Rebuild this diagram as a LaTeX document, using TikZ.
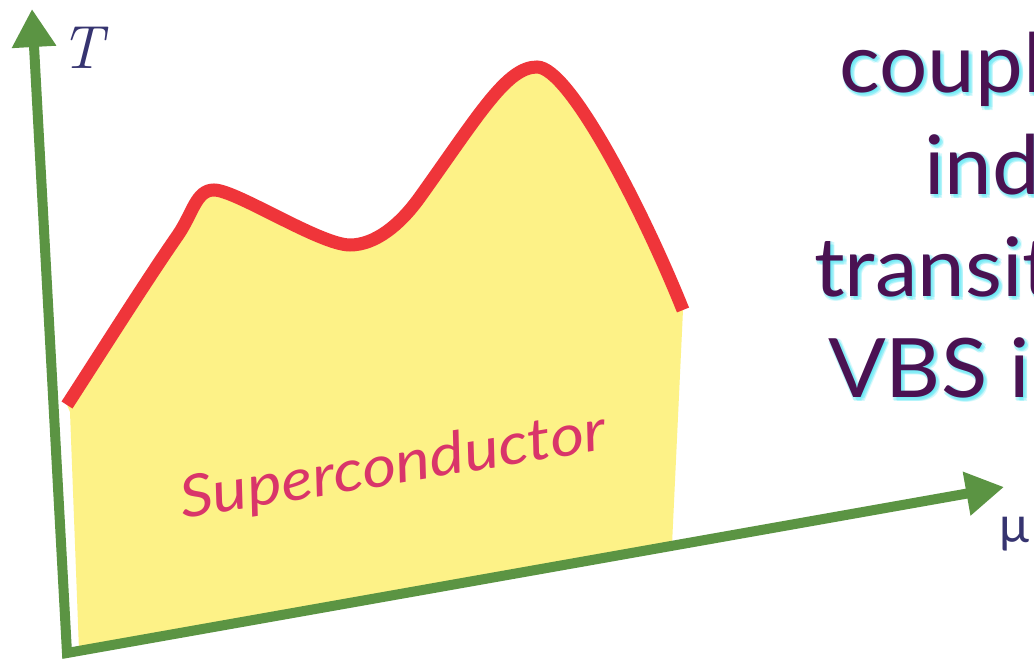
\documentclass[tikz,border=0pt]{standalone}
\usepackage{fontspec}
\newfontfamily\lato{Lato}
\usetikzlibrary{arrows.meta}
\definecolor{axisgreen}{HTML}{5B9443}
\definecolor{regionyellow}{HTML}{FDF287}
\definecolor{curvered}{HTML}{EF353A}
\definecolor{labelblue}{HTML}{363470}
\definecolor{scpink}{HTML}{D9356A}
\definecolor{textpurple}{HTML}{4A1252}
\definecolor{glowcyan}{HTML}{40E4F4}
\newcommand{\wide}[1]{\scalebox{1.04}[1]{#1}}
\tikzset{
  axisline/.style={draw=axisgreen, line width=10pt, line join=miter,
    {Triangle[length=38pt,width=42pt]}-{Triangle[length=38pt,width=42pt]}},
  tccurve/.style={draw=curvered, line width=13pt},
  region/.style={fill=regionyellow},
  bigtext/.style={anchor=base west, inner sep=0pt, text=textpurple,
    font=\lato\fontsize{82}{98}\selectfont},
  glowtext/.style={bigtext, text=glowcyan, opacity=0.22},
  tcpath/.style={insert path={
    (67,405) .. controls (100,354) and (148,278) .. (178,235)
    .. controls (193,213) and (196,190) .. (214,190)
    .. controls (236,190) and (320,245) .. (350,245)
    .. controls (375,245) and (400,225) .. (420,197)
    .. controls (480,113) and (507,67) .. (537,67)
    .. controls (570,67) and (645,215) .. (683,310)}},
}
\begin{document}
\begin{tikzpicture}[x=1pt,y=-1pt]
\useasboundingbox (0,0) rectangle (1034,660);
\fill[white] (0,0) rectangle (1034,660);

% yellow region under the curve
\fill[region] [tcpath] -- (672,545) -- (79,650) -- (70,412) -- cycle;

% red curve
\draw[tccurve] [tcpath];

% axes
\coordinate (Ttip) at (32,9);
\coordinate (O) at (67,653);
\coordinate (Mtip) at (1004,487);
\draw[axisline] (Ttip) -- (O) -- (Mtip);

% axis labels
\node[text=labelblue, inner sep=0pt, font=\itshape\fontsize{61}{61}\selectfont] (Tlabel) at (82,48) {T};
\node[text=labelblue, anchor=base west, inner sep=0pt, font=\lato\fontsize{50}{50}\selectfont] (mulabel) at (999,542) {μ};

% region label
\node[text=scpink, rotate=9.3, anchor=base, inner sep=0pt, font=\lato\itshape\fontsize{58}{58}\selectfont] (sclabel) at (396,484) {\scalebox{1.13}[1]{Superconductor}};

% right-hand text with glow
\foreach \dx/\dy [count=\k] in {3/3, 4/1, 1/4, 0/2, 2/0, 4/4} {
  \node[glowtext] (ga\k) at (839+\dx,93+\dy) {\wide{coupl}};
  \node[glowtext] (gb\k) at (924+\dx,195+\dy) {\wide{ind}};
  \node[glowtext] (gc\k) at (814+\dx,297+\dy) {\wide{transit}};
  \node[glowtext] (gd\k) at (828+\dx,398+\dy) {\wide{VBS in}};
}
\node[bigtext] (l1) at (839,93) {\wide{coupl}};
\node[bigtext] (l2) at (924,195) {\wide{ind}};
\node[bigtext] (l3) at (814,297) {\wide{transit}};
\node[bigtext] (l4) at (828,398) {\wide{VBS in}};
\end{tikzpicture}
\end{document}
